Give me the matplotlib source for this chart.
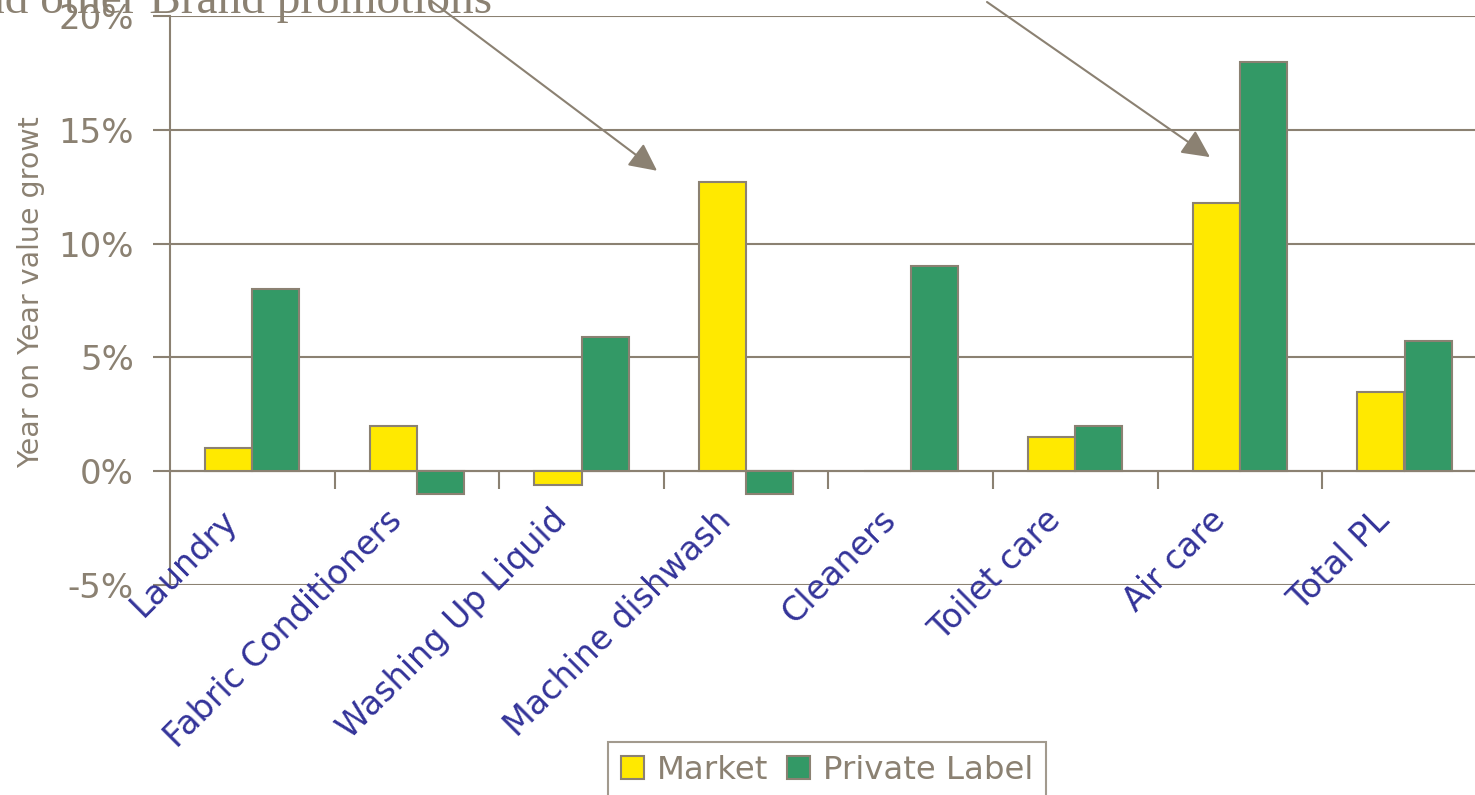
import matplotlib
matplotlib.use("Agg")
import matplotlib.pyplot as plt
from matplotlib.transforms import ScaledTranslation

# Year-on-year value growth by household category (%)
categories = ["Laundry", "Fabric Conditioners", "Washing Up Liquid",
              "Machine dishwash", "Cleaners", "Toilet care", "Air care", "Total PL"]
market = [1.0, 2.0, -0.6, 12.7, 0.0, 1.5, 11.8, 3.5]
private_label = [8.0, -1.0, 5.9, -1.0, 9.0, 2.0, 18.0, 5.7]
y_ticks = [-5, 0, 5, 10, 15, 20]
y_tick_labels = [f"{v}%" for v in y_ticks]
series_names = ["Market", "Private Label"]

GREY = "#8B8172"
YELLOW = "#FFE900"
GREEN = "#339966"
LABEL_BLUE = "#333399"

plt.rcParams["font.family"] = ["DejaVu Sans"]

W, H, DPI = 1475, 795, 100
fig = plt.figure(figsize=(W / DPI, H / DPI), dpi=DPI)
ax = fig.add_axes([170 / W, (H - 585) / H, 8 * 164.6 / W, (585 - 16) / H])

n = len(categories)
xs = list(range(n))
bw = 0.286
bars_m = ax.bar([x - bw / 2 for x in xs], market, width=bw, color=YELLOW,
                edgecolor=GREY, linewidth=1.5, label=series_names[0], zorder=3)
bars_p = ax.bar([x + bw / 2 for x in xs], private_label, width=bw, color=GREEN,
                edgecolor=GREY, linewidth=1.5, label=series_names[1], zorder=3)

ax.set_xlim(-0.5, n - 0.5)
ax.set_ylim(y_ticks[0], y_ticks[-1])
ax.set_yticks(y_ticks)
ax.set_yticklabels(y_tick_labels)
ax.yaxis.grid(True, color=GREY, linewidth=1.5, zorder=0)
ax.set_axisbelow(True)

# category axis sits on the zero line, with separators between groups
ax.spines["bottom"].set_position(("data", 0))
ax.spines["bottom"].set_color(GREY)
ax.spines["bottom"].set_linewidth(1.5)
ax.spines["left"].set_color(GREY)
ax.spines["left"].set_linewidth(1.5)
ax.spines["top"].set_visible(False)
ax.spines["right"].set_visible(False)
ax.set_xticks([x + 0.5 for x in xs[:-1]])
ax.set_xticklabels([])
ax.tick_params(axis="x", direction="out", length=13, width=1.5, color=GREY)
ax.tick_params(axis="y", direction="out", length=12, width=1.5, color=GREY,
               labelcolor=GREY, labelsize=24.5, pad=14)

for x, name in zip(xs, categories):
    off = ScaledTranslation(-20 / DPI, -44 / DPI, fig.dpi_scale_trans)
    ax.text(x, 0, name, transform=ax.transData + off, rotation=45,
            rotation_mode="anchor", ha="right", va="center",
            fontsize=24, color=LABEL_BLUE)

ax.set_ylabel("Year on Year value growt", fontsize=20.5, color=GREY)
ax.yaxis.set_label_coords(-0.095, 0.515)

leg = fig.legend(handles=[bars_m, bars_p], loc="upper left",
                 bbox_to_anchor=(608 / W, (H - 742) / H),
                 bbox_transform=fig.transFigure, ncol=2, frameon=True,
                 fancybox=False, edgecolor=GREY, fontsize=23.3,
                 handlelength=0.7, handleheight=0.7, handletextpad=0.4,
                 columnspacing=0.6, borderpad=0.4, borderaxespad=0)
leg.get_frame().set_linewidth(1.5)
for t in leg.get_texts():
    t.set_color(GREY)

fig.text(492 / W, (H - 13) / H, "and other Brand promotions", ha="right",
         va="baseline", fontfamily="Liberation Serif", fontsize=34, color=GREY)

arrow_style = dict(arrowstyle="-|>,head_length=0.85,head_width=0.42",
                   mutation_scale=20, color=GREY, lw=1.5,
                   shrinkA=0, shrinkB=0)
ax.annotate("", xy=(2.459, 13.2), xycoords="data",
            xytext=(430 / W, 1.0), textcoords="figure fraction",
            arrowprops=arrow_style, annotation_clip=False)
ax.annotate("", xy=(5.818, 13.8), xycoords="data",
            xytext=(987 / W, (H - 2) / H), textcoords="figure fraction",
            arrowprops=arrow_style, annotation_clip=False)

fig.savefig("out.png", dpi=DPI)
